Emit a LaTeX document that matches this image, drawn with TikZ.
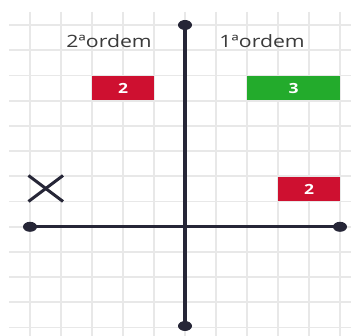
\documentclass[tikz,border=0pt]{standalone}
\usepackage{fontspec}
\setmainfont{Open Sans}
\usetikzlibrary{shapes.geometric}
\definecolor{gridc}{HTML}{E8E8E8}
\definecolor{axisc}{HTML}{262637}
\definecolor{txtc}{HTML}{3A3A3A}
\definecolor{redc}{HTML}{CE1030}
\definecolor{greenc}{HTML}{23AB2C}
\tikzset{
  gridline/.style={draw=gridc, line width=1.8pt},
  axisline/.style={draw=axisc, line width=3.2pt},
  enddot/.style={ellipse, fill=axisc, inner sep=0pt, minimum width=14pt, minimum height=10pt},
  lbl/.style={text=txtc, font=\fontsize{17}{20}\selectfont, inner sep=0pt, anchor=base},
  valbox/.style={inner sep=0pt, text=white, font=\fontsize{14}{16}\selectfont\bfseries, minimum height=24.5pt},
  crossmark/.style={draw=axisc, line width=3pt}
}
\begin{document}
\begin{tikzpicture}[x=1pt,y=-1pt]
\useasboundingbox (0,0) rectangle (351,336);
\fill[white] (0,0) rectangle (351,336);
% grid
\foreach \i in {0,...,10} {
  \draw[gridline] (30+31*\i,12) -- (30+31*\i,336);
}
\foreach \j in {0,...,12} {
  \draw[gridline] (9,25.2+25.2*\j) -- (351,25.2+25.2*\j);
}
% labels
\node[lbl] (l2) at (109,48) {\scalebox{1.25}[1]{2ªordem}};
\node[lbl] (l1) at (262,48) {\scalebox{1.25}[1]{1ªordem}};
% boxes
\node[valbox, fill=redc, minimum width=62pt] (b1) at (123,88.2) {\scalebox{1.25}[1]{2}};
\node[valbox, fill=greenc, minimum width=93pt] (b2) at (293.5,88.2) {\scalebox{1.25}[1]{3}};
\node[valbox, fill=redc, minimum width=62pt] (b3) at (309,189) {\scalebox{1.25}[1]{2}};
% cross
\coordinate (x1) at (28.5,175.5);
\coordinate (x2) at (63,201.5);
\coordinate (x3) at (28.5,201.5);
\coordinate (x4) at (63,175.5);
\draw[crossmark] (x1) -- (x2);
\draw[crossmark] (x3) -- (x4);
% axes
\node[enddot] (L) at (30,226.8) {};
\node[enddot] (R) at (340,226.8) {};
\node[enddot] (T) at (185,25) {};
\node[enddot] (B) at (185,326) {};
\draw[axisline] (L.center) -- (R.center);
\draw[axisline] (T.center) -- (B.center);
\end{tikzpicture}
\end{document}
